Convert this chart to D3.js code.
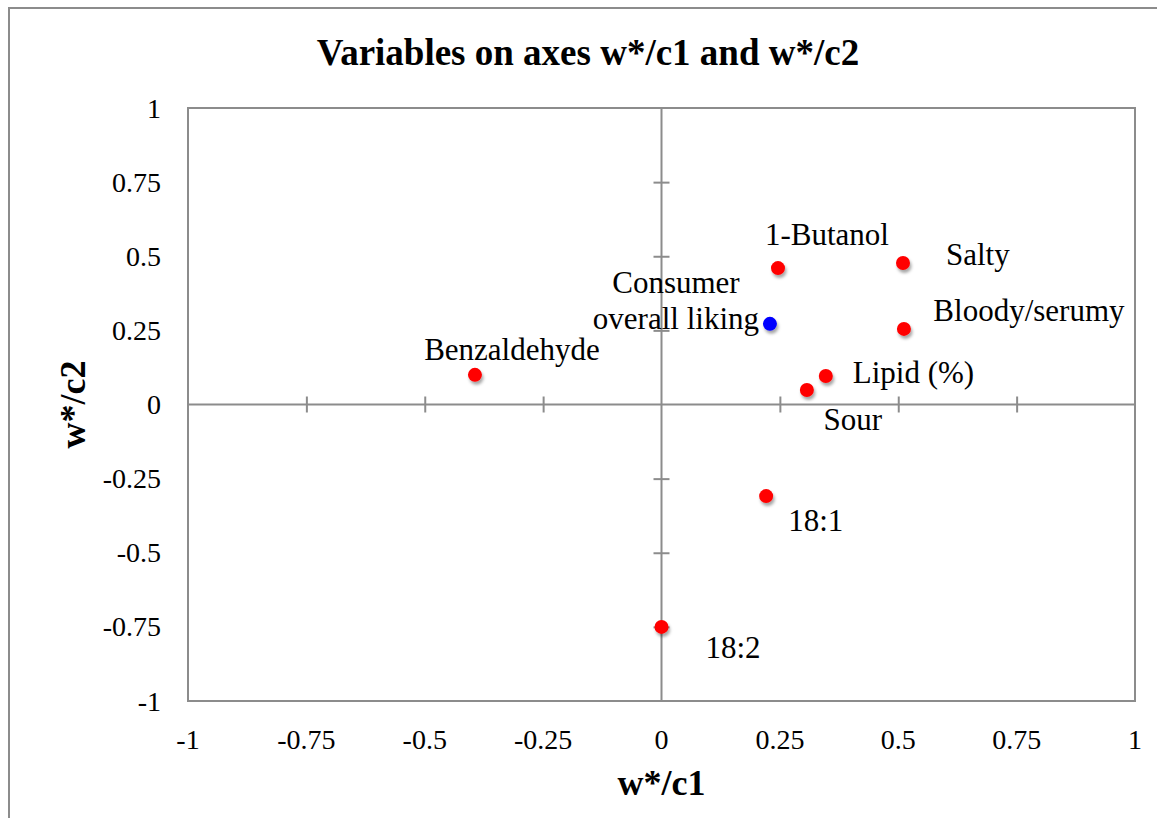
<!DOCTYPE html>
<html>
<head>
<meta charset="utf-8">
<script src="https://cdn.jsdelivr.net/npm/d3@7"></script>
<style>
  html, body { margin: 0; padding: 0; background: #fff; }
  svg { display: block; font-family: "Liberation Serif", "Times New Roman", serif; }
</style>
</head>
<body>
<svg id="chart" width="1157" height="818"></svg>
<script>
// ---- data ----
const names   = ["Benzaldehyde", "1-Butanol", "Salty", "Bloody/serumy", "Lipid (%)", "Sour", "Consumer overall liking", "18:1", "18:2"];
const xValues = [-0.394, 0.246, 0.510, 0.512, 0.347, 0.307, 0.229, 0.221, 0.000];
const yValues = [ 0.100, 0.460, 0.477, 0.255, 0.096, 0.049, 0.272, -0.309, -0.750];
const groups  = ["var", "var", "var", "var", "var", "var", "sup", "var", "var"];
const tickValues = [-1, -0.75, -0.5, -0.25, 0, 0.25, 0.5, 0.75, 1];
const tickLabels = ["-1", "-0.75", "-0.5", "-0.25", "0", "0.25", "0.5", "0.75", "1"];
const titleText = "Variables on axes w*/c1 and w*/c2";
const xTitle = "w*/c1";
const yTitle = "w*/c2";

// ---- layout / style (not data) ----
const plot = { left: 188, right: 1135, top: 108, bottom: 701 };
const grey = "#8c8c8c";
const colors = { var: "#ff0000", sup: "#0000ff" };
// label offsets in pixels relative to each marker: [dx, dy, anchor]
const labelOffsets = {
  "Benzaldehyde": [37, -15, "middle"],
  "1-Butanol": [49, -23, "middle"],
  "Salty": [43, 2, "start"],
  "Bloody/serumy": [125, -8, "middle"],
  "Lipid (%)": [27, 7, "start"],
  "Sour": [46, 40, "middle"],
  "18:1": [22, 35, "start"],
  "18:2": [44, 31, "start"],
  "Consumer overall liking": [-94, -31, "middle"]
};

const svg = d3.select("#chart");
const x = d3.scaleLinear().domain([-1, 1]).range([plot.left, plot.right]);
const y = d3.scaleLinear().domain([-1, 1]).range([plot.bottom, plot.top]);

// drop shadow filter
const defs = svg.append("defs");
const f = defs.append("filter").attr("id", "shadow").attr("x", "-50%").attr("y", "-50%").attr("width", "200%").attr("height", "200%");
f.append("feDropShadow").attr("dx", 1.5).attr("dy", 3).attr("stdDeviation", 1.8)
  .attr("flood-color", "#000").attr("flood-opacity", 0.35);

// outer chart border
svg.append("rect").attr("x", 9).attr("y", 8).attr("width", 1170).attr("height", 830)
  .attr("fill", "none").attr("stroke", grey).attr("stroke-width", 2);

// plot area border
svg.append("rect").attr("x", plot.left).attr("y", plot.top)
  .attr("width", plot.right - plot.left).attr("height", plot.bottom - plot.top)
  .attr("fill", "none").attr("stroke", grey).attr("stroke-width", 2);

// axes through zero, with crossing ticks
const xAxis = d3.axisBottom(x).tickValues(tickValues.filter(v => v > -1 && v < 1 && v !== 0))
  .tickSizeInner(8).tickSizeOuter(0).tickFormat("");
const gx = svg.append("g").attr("transform", `translate(0,${y(0)})`).call(xAxis);
gx.select(".domain").remove();
gx.selectAll(".tick line").attr("y1", -8).attr("y2", 8).attr("stroke", grey).attr("stroke-width", 2);

const yAxis = d3.axisLeft(y).tickValues(tickValues.filter(v => v > -1 && v < 1 && v !== 0))
  .tickSizeInner(8).tickSizeOuter(0).tickFormat("");
const gy = svg.append("g").attr("transform", `translate(${x(0)},0)`).call(yAxis);
gy.select(".domain").remove();
gy.selectAll(".tick line").attr("x1", -8).attr("x2", 8).attr("stroke", grey).attr("stroke-width", 2);

svg.append("line").attr("x1", plot.left).attr("x2", plot.right).attr("y1", y(0)).attr("y2", y(0))
  .attr("stroke", grey).attr("stroke-width", 2);
svg.append("line").attr("x1", x(0)).attr("x2", x(0)).attr("y1", plot.top).attr("y2", plot.bottom)
  .attr("stroke", grey).attr("stroke-width", 2);

// tick labels (placed at plot edges, like Excel low-position labels)
svg.append("g").selectAll("text").data(tickValues).join("text")
  .attr("x", d => x(d)).attr("y", plot.bottom + 48)
  .attr("text-anchor", "middle").attr("font-size", 28).attr("fill", "#000")
  .text((d, i) => tickLabels[i]);
svg.append("g").selectAll("text").data(tickValues).join("text")
  .attr("x", plot.left - 27).attr("y", d => y(d) + 9.5)
  .attr("text-anchor", "end").attr("font-size", 28).attr("fill", "#000")
  .text((d, i) => tickLabels[i]);

// titles
svg.append("text").attr("x", 588).attr("y", 65).attr("text-anchor", "middle")
  .attr("font-size", 37).attr("font-weight", "bold").text(titleText);
svg.append("text").attr("x", x(0)).attr("y", 795).attr("text-anchor", "middle")
  .attr("font-size", 36).attr("font-weight", "bold").text(xTitle);
svg.append("text").attr("transform", `translate(85,${y(0)}) rotate(-90)`).attr("text-anchor", "middle")
  .attr("font-size", 36).attr("font-weight", "bold").text(yTitle);

// points
const pts = names.map((n, i) => ({ name: n, x: xValues[i], y: yValues[i], g: groups[i] }));
svg.append("g").selectAll("circle").data(pts).join("circle")
  .attr("cx", d => x(d.x)).attr("cy", d => y(d.y)).attr("r", 7)
  .attr("fill", d => colors[d.g]).attr("filter", "url(#shadow)");

// labels
const lab = svg.append("g").selectAll("text").data(pts).join("text")
  .attr("x", d => x(d.x) + labelOffsets[d.name][0])
  .attr("y", d => y(d.y) + labelOffsets[d.name][1])
  .attr("text-anchor", d => labelOffsets[d.name][2])
  .attr("font-size", 31).attr("fill", "#000");
lab.each(function(d) {
  const t = d3.select(this);
  if (d.name === "Consumer overall liking") {
    t.append("tspan").attr("x", x(d.x) + labelOffsets[d.name][0]).attr("dy", 0).text("Consumer");
    t.append("tspan").attr("x", x(d.x) + labelOffsets[d.name][0]).attr("dy", 36).text("overall liking");
  } else {
    t.text(d.name);
  }
});
</script>
</body>
</html>
